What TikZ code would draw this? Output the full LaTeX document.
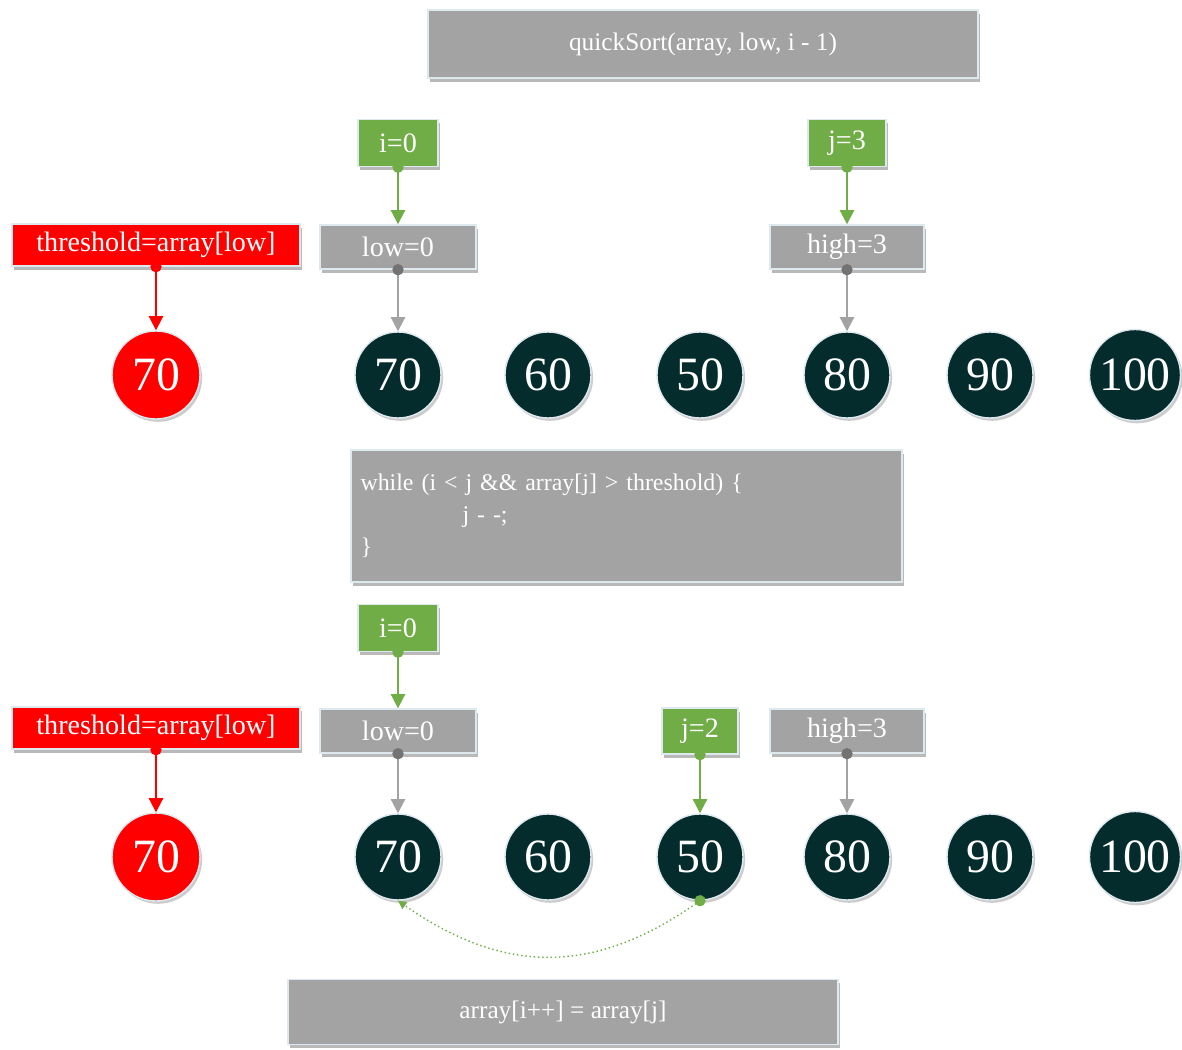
\documentclass[tikz,border=0pt]{standalone}
\usepackage{fontspec}
\setmainfont{Liberation Serif}
\usepackage{tikz}
\usetikzlibrary{shapes.geometric, arrows.meta, shadows}
\usepackage{xcolor}
\definecolor{boxgray}{RGB}{163,163,163}
\definecolor{rim}{RGB}{222,233,239}
\definecolor{leafgreen}{RGB}{112,173,71}
\definecolor{nodered}{RGB}{255,0,0}
\definecolor{deepteal}{RGB}{5,44,44}
\tikzstyle{gray-box} = [rectangle, 
fill=boxgray, 
draw=rim, line width=1pt, 
text=white, 
font=\fontsize{20}{24}\selectfont, 
minimum width=3.9cm, 
minimum height=1.1cm, 
text centered, 
drop shadow={shadow xshift=1.5pt, shadow yshift=-2.5pt, opacity=0.55}]
\tikzstyle{code-box} = [gray-box, 
minimum width=13.75cm, 
font=\fontsize{18}{23}\selectfont]
\tikzstyle{green-box} = [gray-box, fill=leafgreen, minimum width=2cm, minimum height=1.175cm]
\tikzstyle{red-box} = [gray-box, fill=nodered, minimum width=7.2cm, minimum height=1.05cm]
\tikzstyle{num} = [circle, 
fill=deepteal, 
draw=rim, line width=1pt, 
minimum size=2.15cm, 
text=white, 
font=\fontsize{34}{40}\selectfont, 
drop shadow={shadow xshift=1.5pt, shadow yshift=-2pt, opacity=0.4}]
\tikzstyle{pivot} = [num, fill=nodered, minimum size=2.2cm]
\tikzstyle{arrow} = [line width=1.4pt, shorten <=-4pt,
{Circle[length=8pt]}-{Triangle[length=10pt,width=10pt]}]
\tikzstyle{green-arrow} = [arrow, leafgreen]
\tikzstyle{red-arrow} = [arrow, nodered]
\tikzstyle{gray-arrow} = [line width=1.4pt, boxgray, shorten <=-4pt,
{Circle[length=8pt,color=black!55]}-{Triangle[length=10pt,width=10pt]}]
\tikzstyle{move-arrow} = [dotted, line width=1pt, leafgreen, shorten <=-4pt,
{Circle[length=8pt]}-{Triangle[length=6pt,width=6pt]}]

\begin{document}
\begin{tikzpicture}
    \fill [white] (0,0) rectangle (29.55,-26.25);
    \useasboundingbox (0,0) rectangle (29.55,-26.25);

    % recursive call
    \node (call) [code-box, minimum height=1.7cm] at (17.575,-1.1) {quickSort(array, low, i - 1)};

    % before the scan
    \node (i1) [green-box] at (9.95,-3.575) {i=0};
    \node (j1) [green-box, minimum width=1.95cm] at (21.175,-3.575) {j=3};
    \node (thr1) [red-box] at (3.9,-6.125) {threshold=array[low]};
    \node (low1) [gray-box] at (9.95,-6.175) {low=0};
    \node (high1) [gray-box, minimum width=3.85cm] at (21.175,-6.175) {high=3};

    \node (p1) [pivot] at (3.9,-9.375) {70};
    \node (a70) [num] at (9.95,-9.375) {70};
    \node (a60) [num] at (13.7,-9.375) {60};
    \node (a50) [num] at (17.5,-9.375) {50};
    \node (a80) [num] at (21.175,-9.375) {80};
    \node (a90) [num] at (24.75,-9.375) {90};
    \node (a100) [num] at (28.375,-9.375) {100};

    \draw [green-arrow] (i1) -- (low1);
    \draw [green-arrow] (j1) -- (high1);
    \draw [red-arrow] (thr1) -- (p1);
    \draw [gray-arrow] (low1) -- (a70);
    \draw [gray-arrow] (high1) -- (a80);

    % scan from the right
    \node (loop) [code-box, minimum width=13.775cm, minimum height=3.3cm,
        text width=13.3cm, align=left, font=\fontsize{17}{22.8}\selectfont] at (15.6625,-12.9)
        {while (i < j \&\& array[j] > threshold) \{\\
         \hspace*{2.55cm}j - -;\\
         \}};

    % after the scan
    \node (i2) [green-box] at (9.95,-15.7) {i=0};
    \node (thr2) [red-box] at (3.9,-18.2) {threshold=array[low]};
    \node (low2) [gray-box] at (9.95,-18.275) {low=0};
    \node (j2) [green-box, minimum width=1.9cm, minimum height=1.15cm] at (17.5,-18.275) {j=2};
    \node (high2) [gray-box, minimum width=3.85cm] at (21.175,-18.275) {high=3};

    \node (p2) [pivot] at (3.9,-21.425) {70};
    \node (b70) [num] at (9.95,-21.425) {70};
    \node (b60) [num] at (13.7,-21.425) {60};
    \node (b50) [num] at (17.5,-21.425) {50};
    \node (b80) [num] at (21.175,-21.425) {80};
    \node (b90) [num] at (24.75,-21.425) {90};
    \node (b100) [num] at (28.375,-21.425) {100};

    \draw [green-arrow] (i2) -- (low2);
    \draw [green-arrow] (j2) -- (b50);
    \draw [red-arrow] (thr2) -- (p2);
    \draw [gray-arrow] (low2) -- (b70);
    \draw [gray-arrow] (high2) -- (b80);
    \draw [move-arrow] (b50.south) to [out=-145, in=-35, looseness=1.1] (b70.south);

    \node (copy) [code-box, minimum height=1.625cm] at (14.075,-25.3) {array[i++] = array[j]};
\end{tikzpicture}
\end{document}
